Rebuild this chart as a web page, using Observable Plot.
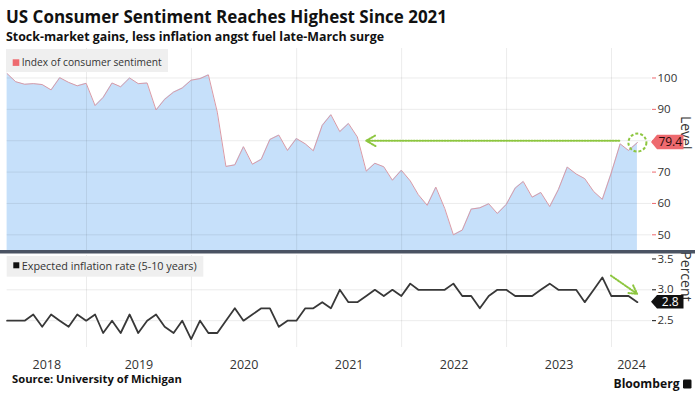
<!DOCTYPE html>
<html><head><meta charset="utf-8">
<script src="https://cdn.jsdelivr.net/npm/d3@7"></script>
<script src="https://cdn.jsdelivr.net/npm/@observablehq/plot@0.6"></script>
<style>
html,body{margin:0;padding:0;background:#fff;}
#wrap{position:relative;width:695px;height:405px;overflow:hidden;font-family:"Open Sans",sans-serif;}
#wrap svg{position:absolute;left:0;}
</style></head><body><div id="wrap"></div>
<script>
// ---- text ----
const titleText = "US Consumer Sentiment Reaches Highest Since 2021";
const subtitleText = "Stock-market gains, less inflation angst fuel late-March surge";
const sourceText = "Source: University of Michigan";
const brandText = "Bloomberg";
const sentimentLabel = "Index of consumer sentiment";
const inflationLabel = "Expected inflation rate (5-10 years)";
const sentimentAxisTitle = "Level";
const inflationAxisTitle = "Percent";

// ---- data: monthly, March 2018 .. March 2024 ----
const startYear = 2018, startMonth = 3;
const sentiment = [
  101.4, 98.8, 98.0, 98.2, 97.9, 96.2, 100.1, 98.6, 97.5, 98.3,
  91.2, 93.8, 98.4, 97.2, 100.0, 98.2, 98.4, 89.8, 93.2, 95.5, 96.8, 99.3,
  99.8, 101.0, 89.1, 71.8, 72.3, 78.1, 72.5, 74.1, 80.4, 81.8, 76.9, 80.7,
  79.0, 76.8, 84.9, 88.3, 82.9, 85.5, 81.2, 70.3, 72.8, 71.7, 67.4, 70.6,
  67.2, 62.8, 59.4, 65.2, 58.4, 50.0, 51.5, 58.2, 58.6, 59.9, 56.8, 59.7,
  64.9, 67.0, 62.0, 63.5, 59.0, 64.4, 71.6, 69.4, 67.9, 63.8, 61.3, 69.7,
  79.0, 76.9, 79.4
];
const inflation = [
  2.5, 2.5, 2.5, 2.6, 2.4, 2.6, 2.5, 2.4, 2.6, 2.5,
  2.6, 2.3, 2.5, 2.3, 2.6, 2.3, 2.5, 2.6, 2.4, 2.3, 2.5, 2.2,
  2.5, 2.3, 2.3, 2.5, 2.7, 2.5, 2.6, 2.7, 2.7, 2.4, 2.5, 2.5,
  2.7, 2.7, 2.8, 2.7, 3.0, 2.8, 2.8, 2.9, 3.0, 2.9, 3.0, 2.9,
  3.1, 3.0, 3.0, 3.0, 3.0, 3.1, 2.9, 2.9, 2.7, 2.9, 3.0, 3.0,
  2.9, 2.9, 2.9, 3.0, 3.1, 3.0, 3.0, 3.0, 2.8, 3.0, 3.2, 2.9,
  2.9, 2.9, 2.8
];
const yearLabels = ["2018", "2019", "2020", "2021", "2022", "2023", "2024"];
const sentimentTicks = [50, 60, 70, 80, 90, 100];
const sentimentTicksHidden = [80]; // covered by the value tag in the reference
const inflationTicks = [2.5, 3.0, 3.5];
const inflationGrid = [2.5, 3.0];
const sentimentArrow = {from: "2024-01-28", to: "2021-08-31", level: 80};
const inflationArrow = {from: "2023-12-30", to: "2024-03-30", y1: 3.23, y2: 2.935};

// ---- derived tables ----
const monthEnd = i => new Date(Date.UTC(startYear, startMonth - 1 + i + 1, 0));
const rows = sentiment.map((v, i) => ({date: monthEnd(i), sentiment: v, inflation: inflation[i]}));
const last = rows[rows.length - 1];
const xDomain = [rows[0].date, new Date(Date.UTC(2024, 4, 19))];
const yearStarts = yearLabels.slice(1).map(y => new Date(Date.UTC(+y, 0, 1)));
const yearLabelRows = yearLabels.map(y => {
  const s = Math.max(Date.UTC(+y, 0, 1), +xDomain[0]);
  const e = Math.min(Date.UTC(+y + 1, 0, 1), +xDomain[1]);
  return {label: y, date: new Date((s + e) / 2)};
});
const sentMin = 45, sentMax = 109.4;

const W = 695, mL = 6.6, mR = 44;
const BLUE = "#c6e0fa", RED = "#ee6a6f", GREEN = "#8dc63f";
const commonStyle = {fontFamily: "Open Sans", fontSize: "11.5px", color: "#333", background: "transparent", overflow: "visible"};

const topChart = Plot.plot({
  width: W, height: 212, marginTop: 8, marginBottom: 2, marginLeft: mL, marginRight: mR,
  style: commonStyle,
  x: {type: "utc", domain: xDomain, axis: null},
  y: {domain: [sentMin, sentMax], axis: null},
  marks: [
    Plot.areaY(rows, {x: "date", y1: sentMin, y2: "sentiment", fill: BLUE}),
    Plot.gridY(sentimentTicks, {stroke: "#000", strokeOpacity: 0.08}),
    Plot.gridX(yearStarts, {stroke: "#000", strokeOpacity: 0.08}),
    Plot.lineY(rows, {x: "date", y: "sentiment", stroke: "#d99aa6", strokeWidth: 1}),
    Plot.axisY(sentimentTicks, {anchor: "right", tickSize: 4, tickPadding: 2, stroke: RED, fill: "#333", line: true, label: null,
      tickFormat: d => sentimentTicksHidden.includes(d) ? "" : d}),
    Plot.arrow([sentimentArrow], {x1: d => new Date(d.from), x2: d => new Date(d.to), y1: "level", y2: "level",
      stroke: GREEN, strokeWidth: 2, strokeDasharray: "1.2,1.6", headLength: 8}),
    Plot.dot([last], {x: "date", y: "sentiment", r: 9, stroke: GREEN, strokeWidth: 2, strokeDasharray: "3,2", fill: "none"}),
    Plot.text([sentimentAxisTitle], {text: d => d, frameAnchor: "right", dx: 34, rotate: 90, fontSize: 14, fill: "#333"})
  ]
});

const bottomChart = Plot.plot({
  width: W, height: 122, marginTop: 1, marginBottom: 29, marginLeft: mL, marginRight: mR,
  style: commonStyle,
  x: {type: "utc", domain: xDomain, axis: null},
  y: {domain: [2.065, 3.556], axis: null},
  marks: [
    Plot.gridY(inflationGrid, {stroke: "#000", strokeOpacity: 0.08}),
    Plot.gridX(yearStarts, {stroke: "#000", strokeOpacity: 0.08}),
    Plot.lineY(rows, {x: "date", y: "inflation", stroke: "#383838", strokeWidth: 1.8}),
    Plot.axisY(inflationTicks, {anchor: "right", tickSize: 4, tickPadding: 2, stroke: "#111", fill: "#333", line: true, label: null, tickFormat: d3.format(".1f")}),
    Plot.text(yearLabelRows, {x: "date", text: "label", frameAnchor: "bottom", dy: 21, fontSize: 12.5, fill: "#333"}),
    Plot.arrow([inflationArrow], {x1: d => new Date(d.from), x2: d => new Date(d.to), y1: "y1", y2: "y2",
      stroke: GREEN, strokeWidth: 2, strokeDasharray: "1.2,1.6", headLength: 7}),
    Plot.text([inflationAxisTitle], {text: d => d, frameAnchor: "right", dx: 34, rotate: 90, fontSize: 14, fill: "#333"})
  ]
});

const wrap = document.getElementById("wrap");
const TOP_Y = 40, BOT_Y = 254;
topChart.style.top = TOP_Y + "px";
bottomChart.style.top = BOT_Y + "px";
wrap.appendChild(topChart);
wrap.appendChild(bottomChart);

// ---- overlay: titles, legends, value tags, footer ----
const ov = d3.create("svg").attr("width", W).attr("height", 405).style("top", "0px")
  .style("font-family", "Open Sans").style("pointer-events", "none");

ov.append("text").attr("x", 6).attr("y", 23).attr("font-size", 18).attr("font-weight", 700).attr("fill", "#111")
  .attr("textLength", 441).attr("lengthAdjust", "spacingAndGlyphs").text(titleText);
ov.append("text").attr("x", 6).attr("y", 40.5).attr("font-size", 13).attr("font-weight", 700).attr("fill", "#111")
  .attr("textLength", 378).attr("lengthAdjust", "spacingAndGlyphs").text(subtitleText);

// separator
ov.append("rect").attr("x", 0).attr("y", 250).attr("width", W).attr("height", 3.5).attr("fill", "#4a5363");

// legends
ov.append("rect").attr("x", 6).attr("y", 49).attr("width", 162).attr("height", 23).attr("fill", "#efefef");
ov.append("rect").attr("x", 12.7).attr("y", 59.3).attr("width", 6.6).attr("height", 6.6).attr("fill", RED);
ov.append("text").attr("x", 21.7).attr("y", 66).attr("font-size", 11).attr("fill", "#333")
  .attr("textLength", 140).attr("lengthAdjust", "spacingAndGlyphs").text(sentimentLabel);

ov.append("rect").attr("x", 6.7).attr("y", 256).attr("width", 196.6).attr("height", 20.7).attr("fill", "#efefef");
ov.append("rect").attr("x", 13.3).attr("y", 262.3).attr("width", 6).attr("height", 6).attr("fill", "#111");
ov.append("text").attr("x", 21.7).attr("y", 269.5).attr("font-size", 11).attr("fill", "#333")
  .attr("textLength", 175).attr("lengthAdjust", "spacingAndGlyphs").text(inflationLabel);

// value tags
function tag(yPix, fill, textFill, label, h) {
  const x0 = W - mR, x1 = x0 + 6, x2 = 683.5;
  ov.append("path").attr("d", `M${x0},${yPix}L${x1},${yPix - h / 2}L${x2},${yPix - h / 2}L${x2},${yPix + h / 2}L${x1},${yPix + h / 2}Z`)
    .attr("fill", fill);
  ov.append("text").attr("x", (x1 + x2) / 2).attr("y", yPix).attr("dy", "0.36em").attr("text-anchor", "middle")
    .attr("font-size", 12).attr("fill", textFill).text(label);
}
tag(TOP_Y + topChart.scale("y").apply(last.sentiment), RED, "#2a0a0a", d3.format(".1f")(last.sentiment), 14.5);
tag(BOT_Y + bottomChart.scale("y").apply(last.inflation), "#111", "#fff", d3.format(".1f")(last.inflation), 13.5);

// footer
ov.append("text").attr("x", 12).attr("y", 383).attr("font-size", 11).attr("font-weight", 700).attr("fill", "#111")
  .attr("textLength", 170).attr("lengthAdjust", "spacingAndGlyphs").text(sourceText);
ov.append("text").attr("x", 613.5).attr("y", 388).attr("font-size", 13).attr("font-weight", 700).attr("fill", "#111")
  .attr("textLength", 66).attr("lengthAdjust", "spacingAndGlyphs").text(brandText);
ov.append("rect").attr("x", 683).attr("y", 379.5).attr("width", 8.5).attr("height", 9).attr("rx", 1.2).attr("fill", "#111");

wrap.appendChild(ov.node());
</script>
</body></html>
